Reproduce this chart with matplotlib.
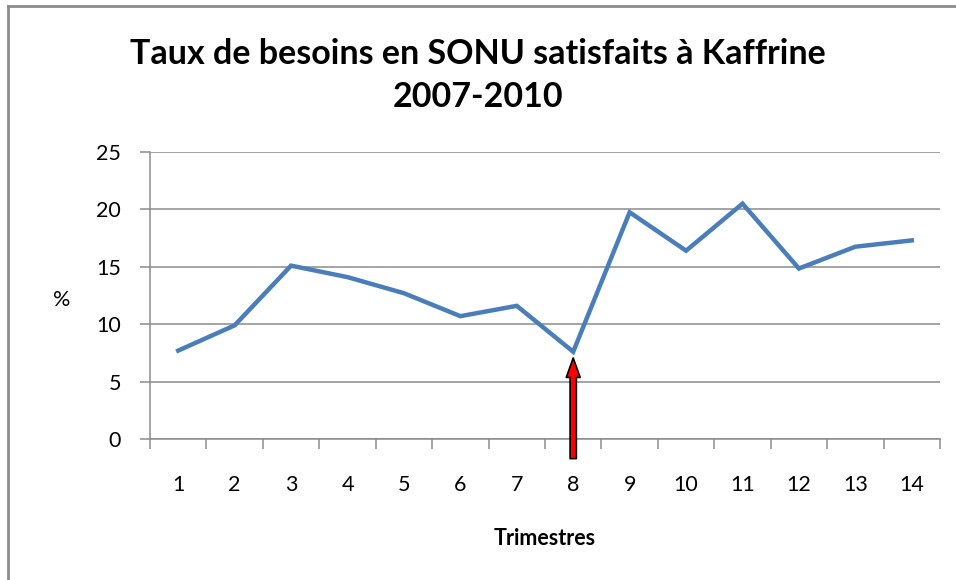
import numpy as np
import matplotlib
matplotlib.use('Agg')
import matplotlib.pyplot as plt
from matplotlib.lines import Line2D

plt.rcParams['font.family'] = ['Lato', 'DejaVu Sans']

trimestres = list(range(1, 15))
taux = [7.7, 9.9, 15.1, 14.1, 12.7, 10.7, 11.6, 7.6, 19.75, 16.4, 20.5, 14.85, 16.75, 17.3]
y_ticks = [0, 5, 10, 15, 20, 25]
point_fleche = 8

fig = plt.figure(figsize=(9.56, 5.80), dpi=100)
ax = fig.add_axes([150 / 956, 141 / 580, 790 / 956, 287 / 580])

x = np.arange(len(trimestres))
ax.plot(x, taux, color='#4A7EBB', linewidth=3.2, solid_joinstyle='miter', zorder=3)

ax.set_xlim(-0.5, len(trimestres) - 0.5)
ax.set_ylim(0, 25)
ax.set_yticks(y_ticks)
ax.set_xticks(x)
ax.set_xticklabels([str(t) for t in trimestres])
ax.set_xticks(np.arange(len(trimestres) + 1) - 0.5, minor=True)

ax.grid(axis='y', color='#8C8C8C', linewidth=1.1)
ax.set_axisbelow(True)
for s in ['top', 'right']:
    ax.spines[s].set_visible(False)
for s in ['left', 'bottom']:
    ax.spines[s].set_color('#8C8C8C')
    ax.spines[s].set_linewidth(1.1)

ax.tick_params(axis='x', which='major', length=0, pad=26, labelsize=15.5)
ax.tick_params(axis='x', which='minor', length=7, color='#8C8C8C', width=1.1)
ax.tick_params(axis='y', length=7, color='#8C8C8C', width=1.1, pad=14, labelsize=15.5, direction='out')

ax.set_xlabel('Trimestres', fontsize=15.5, fontweight='bold', labelpad=24)
ax.set_ylabel('%', fontsize=15.5, rotation=0, labelpad=0)
ax.yaxis.set_label_coords(-0.112, 0.45)

fig.suptitle('Taux de besoins en SONU satisfaits à Kaffrine\n2007-2010',
             fontsize=24.5, fontweight='bold', y=0.935, linespacing=1.45)

# red arrow pointing at trimester 8
i = trimestres.index(point_fleche)
ax.annotate('', xy=(x[i], taux[i] - 0.3), xytext=(x[i], -1.95),
            arrowprops=dict(arrowstyle='simple,head_length=1.4,head_width=1.0,tail_width=0.45',
                            facecolor='#FF0000', edgecolor='black', linewidth=1.2),
            annotation_clip=False, zorder=5)

# border (left and top only, image cropped)
fig.add_artist(Line2D([8 / 956, 8 / 956], [0, 1 - 6 / 580], color='#8C8C8C', linewidth=2))
fig.add_artist(Line2D([8 / 956, 1], [1 - 6 / 580, 1 - 6 / 580], color='#8C8C8C', linewidth=2))

fig.savefig('out.png', dpi=100)
